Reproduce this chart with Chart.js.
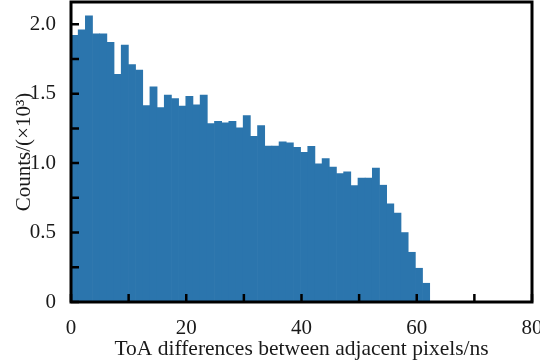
<!DOCTYPE html>
<html>
<head>
<meta charset="utf-8">
<script src="https://cdn.jsdelivr.net/npm/chart.js@4"></script>
<style>
  html, body { margin: 0; padding: 0; background: #fff; }
  #wrap { width: 540px; height: 364px; }
</style>
</head>
<body>
<div id="wrap"><canvas id="myChart" width="540" height="364"></canvas></div>
<script>
// histogram: 50 equal bins starting at 0
const binWidth = 1.245;
const counts = [
    1.92, 1.96, 2.06, 1.93, 1.93, 1.87, 1.64, 1.85, 1.71, 1.67,
    1.415, 1.55, 1.40, 1.49, 1.465, 1.41, 1.48, 1.42, 1.49, 1.285,
    1.30, 1.29, 1.30, 1.254, 1.343, 1.193, 1.27, 1.123, 1.123, 1.154,
    1.146, 1.114, 1.078, 1.121, 0.994, 1.032, 0.971, 0.924, 0.937, 0.839,
    0.893, 0.893, 0.964, 0.841, 0.706, 0.640, 0.50, 0.358, 0.243, 0.135
];
const xTickLabels = [0, 20, 40, 60, 80];
const yTickLabels = [0, 0.5, 1.0, 1.5, 2.0];
const xTitle = 'ToA differences between adjacent pixels/ns';
const yTitle = 'Counts/(\u00d710\u00b3)';

const font = { family: "'Liberation Serif', 'Times New Roman', serif", size: 21 };
const ink = '#1a1a1a';

// bin centres, built from the bin width
const points = [];
for (let i = 0; i < counts.length; i++) {
    points.push({ x: (i + 0.5) * binWidth, y: counts[i] });
}

// tick marks every minor step (labels only on the lists above)
function stepTicks(from, to, step) {
    const out = [];
    for (let v = from; v <= to + 1e-9; v += step) out.push({ value: Math.round(v * 1000) / 1000 });
    return out;
}

// black frame and inward ticks
const frameTicks = {
    id: 'frameTicks',
    afterDatasetsDraw(chart) {
        const ctx = chart.ctx;
        const a = chart.chartArea;
        const x = chart.scales.x, y = chart.scales.y;
        ctx.save();
        ctx.strokeStyle = '#000';
        ctx.lineWidth = 2.5;
        ctx.beginPath();
        x.ticks.forEach(t => {
            const px = x.getPixelForValue(t.value);
            ctx.moveTo(px, a.bottom);
            ctx.lineTo(px, a.bottom - 8);
        });
        y.ticks.forEach(t => {
            const py = y.getPixelForValue(t.value);
            ctx.moveTo(a.left, py);
            ctx.lineTo(a.left + 8, py);
        });
        ctx.stroke();
        ctx.lineWidth = 3;
        ctx.strokeRect(a.left, a.top, a.right - a.left, a.bottom - a.top);
        ctx.restore();
    }
};

new Chart(document.getElementById('myChart').getContext('2d'), {
    type: 'bar',
    data: {
        datasets: [{
            data: points,
            backgroundColor: '#2b75ad',
            borderWidth: 0,
            barPercentage: 1,
            categoryPercentage: 1
        }]
    },
    options: {
        responsive: false,
        animation: false,
        layout: { padding: { left: 0, right: 8, top: 2, bottom: 0 } },
        plugins: { legend: { display: false }, tooltip: { enabled: false } },
        scales: {
            x: {
                type: 'linear',
                offset: false,
                min: 0,
                max: 80,
                grid: { display: false, offset: false },
                border: { display: false },
                ticks: {
                    padding: 6,
                    maxRotation: 0,
                    autoSkip: false,
                    font: font,
                    color: ink,
                    callback: v => xTickLabels.includes(v) ? String(v) : ''
                },
                title: { display: true, text: xTitle, font: { family: font.family, size: 21.5 }, color: ink, padding: { top: 0, bottom: 2 } },
                afterBuildTicks: s => { s.ticks = stepTicks(0, 80, 10); },
                afterFit: s => { s.height = 62; s.paddingLeft = 0; s.paddingRight = 0; }
            },
            y: {
                min: 0,
                max: 2.16,
                grid: { display: false },
                border: { display: false },
                ticks: {
                    padding: 7,
                    autoSkip: false,
                    font: font,
                    color: ink,
                    callback: v => {
                        const hit = yTickLabels.find(l => Math.abs(l - v) < 1e-6);
                        if (hit === undefined) return '';
                        return hit === 0 ? '0' : hit.toFixed(1);
                    }
                },
                title: { display: true, text: yTitle, font: font, color: ink, padding: { top: 12, bottom: 0 } },
                afterBuildTicks: s => { s.ticks = stepTicks(0, 2.0, 0.25); },
                afterFit: s => { s.width = 71; s.paddingTop = 0; s.paddingBottom = 0; }
            }
        }
    },
    plugins: [frameTicks]
});
</script>
</body>
</html>
